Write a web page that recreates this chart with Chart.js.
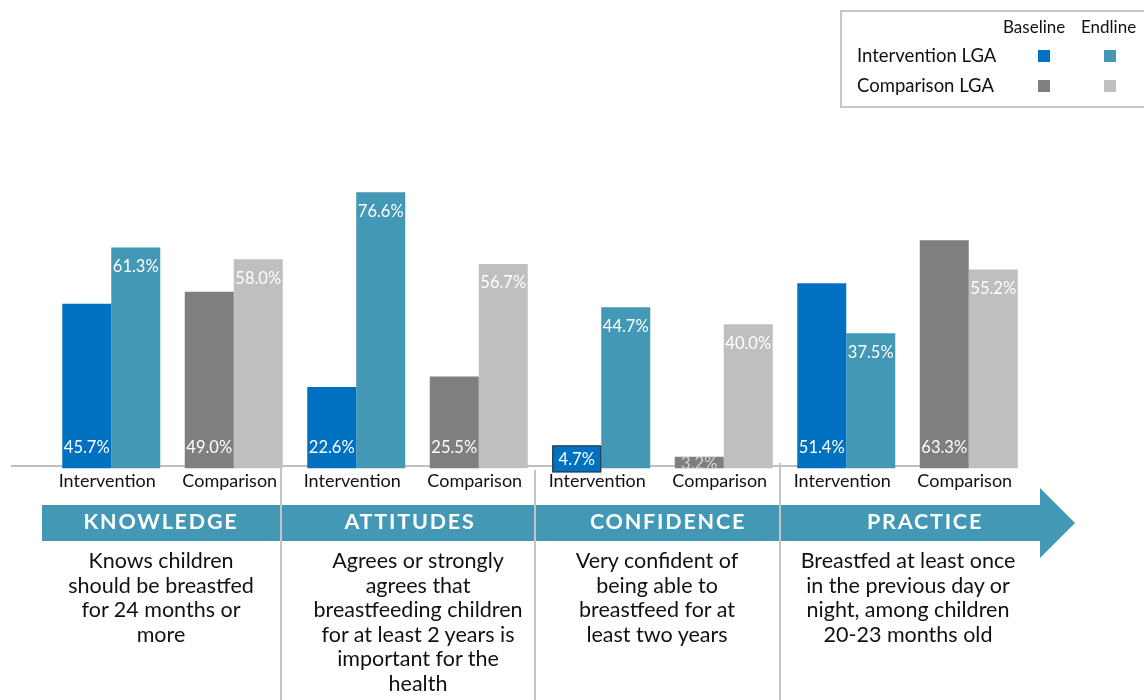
<!DOCTYPE html>
<html lang="en">
<head>
<meta charset="UTF-8">
<title>Breastfeeding indicators</title>
<script src="https://cdn.jsdelivr.net/npm/chart.js"></script>
<style>
  body { margin: 0; background: #fff; font-family: Lato, "Open Sans", sans-serif; }
  .wrap { position: relative; width: 1144px; height: 700px; overflow: hidden; }
  #chart { position: absolute; left: 0; top: 0; }
  .legend { position: absolute; left: 840px; top: 10px; width: 320px; height: 98px; border: 2px solid #c8c8c8; box-sizing: border-box; color: #111; }
  .legend .hd { position: absolute; top: 4px; font-size: 17px; }
  .legend .row { position: absolute; left: 15px; font-size: 18.5px; }
  .legend .sq { position: absolute; width: 12px; height: 12px; }
  #deco { position: absolute; left: 0; top: 0; }
  .band-label { position: absolute; top: 508px; width: 260px; margin-left: -130px; text-align: center; color: #fff; font-weight: bold; font-size: 21.5px; letter-spacing: 1.8px; }
  .desc { position: absolute; top: 548px; width: 280px; margin-left: -140px; text-align: center; color: #111; font-size: 21.5px; line-height: 24.5px; }
</style>
</head>
<body>
<div class="wrap">
  <canvas id="chart" width="1144" height="700"></canvas>
  <svg id="deco" width="1144" height="700"></svg>
  <div class="legend">
    <div class="hd" style="left:161px">Baseline</div>
    <div class="hd" style="left:239px">Endline</div>
    <div class="row" style="top:32px">Intervention LGA</div>
    <div class="row" style="top:62px">Comparison LGA</div>
    <div class="sq" style="left:196px;top:38px;background:#0070C0"></div>
    <div class="sq" style="left:262px;top:38px;background:#4298B5"></div>
    <div class="sq" style="left:196px;top:68px;background:#7F7F7F"></div>
    <div class="sq" style="left:262px;top:68px;background:#BFBFBF"></div>
  </div>
</div>
<script>
const categories = ['Intervention', 'Comparison', 'Intervention', 'Comparison',
                    'Intervention', 'Comparison', 'Intervention', 'Comparison'];
const baseline = [45.7, 49.0, 22.6, 25.5, 4.7, 3.2, 51.4, 63.3];
const endline  = [61.3, 58.0, 76.6, 56.7, 44.7, 40.0, 37.5, 55.2];
const domains = ['KNOWLEDGE', 'ATTITUDES', 'CONFIDENCE', 'PRACTICE'];
const descriptions = [
  'Knows children<br>should be breastfed<br>for 24 months or<br>more',
  'Agrees or strongly<br>agrees that<br>breastfeeding children<br>for at least 2 years is<br>important for the<br>health',
  'Very confident of<br>being able to<br>breastfeed for at<br>least two years',
  'Breastfed at least once<br>in the previous day or<br>night, among children<br>20-23 months old'
];

const BLUE = '#0070C0', TEAL = '#4298B5', DGRAY = '#7F7F7F', LGRAY = '#BFBFBF';
const baseColors = categories.map(c => c === 'Intervention' ? BLUE : DGRAY);
const endColors = categories.map(c => c === 'Intervention' ? TEAL : LGRAY);

// horizontal axis line, drawn under the bars
const axisLine = {
  id: 'axisLine',
  beforeDatasetsDraw(chart) {
    const ctx = chart.ctx;
    const last = chart.getDatasetMeta(1).data[categories.length - 1];
    const y = chart.scales.y.getPixelForValue(0) - 2.5;
    ctx.save();
    ctx.strokeStyle = '#BFBFBF';
    ctx.lineWidth = 2;
    ctx.beginPath();
    ctx.moveTo(11, y);
    ctx.lineTo(last.x + last.width / 2, y);
    ctx.stroke();
    ctx.restore();
  }
};

// value labels: baseline at the bottom of the bar, endline at the top
const valueLabels = {
  id: 'valueLabels',
  afterDatasetsDraw(chart) {
    const ctx = chart.ctx;
    ctx.save();
    ctx.font = '16.5px Lato, sans-serif';
    ctx.textAlign = 'center';
    ctx.textBaseline = 'middle';
    chart.data.datasets.forEach((ds, di) => {
      chart.getDatasetMeta(di).data.forEach((bar, i) => {
        const txt = ds.data[i].toFixed(1) + '%';
        const left = bar.x - bar.width / 2;
        const h = bar.base - bar.y;
        if (di === 0) {
          if (h < 14) {
            ctx.save();
            ctx.beginPath();
            ctx.rect(left, bar.y, bar.width, h);
            ctx.clip();
            ctx.fillStyle = '#d4d4d4';
            ctx.fillText(txt, bar.x, bar.base - 5);
            ctx.restore();
          } else {
            if (h < 24) {
              ctx.fillStyle = ds.backgroundColor[i];
              ctx.fillRect(left, bar.base - 23, bar.width, 27);
              ctx.strokeStyle = '#333';
              ctx.lineWidth = 1;
              ctx.strokeRect(left + 0.5, bar.base - 22.5, bar.width - 1, 26);
            }
            ctx.fillStyle = '#fff';
            ctx.fillText(txt, bar.x, h < 24 ? bar.base - 9 : bar.base - 21);
          }
        } else {
          ctx.fillStyle = '#fff';
          ctx.fillText(txt, bar.x, bar.y + 19);
        }
      });
    });
    ctx.restore();
  }
};

new Chart(document.getElementById('chart'), {
  type: 'bar',
  data: {
    labels: categories,
    datasets: [
      { label: 'Baseline', data: baseline, backgroundColor: baseColors },
      { label: 'Endline', data: endline, backgroundColor: endColors }
    ]
  },
  options: {
    responsive: false,
    animation: false,
    layout: { padding: { left: 50, right: 114, top: 108, bottom: 206 } },
    datasets: { bar: { categoryPercentage: 0.8, barPercentage: 1.0 } },
    plugins: { legend: { display: false }, tooltip: { enabled: false } },
    scales: {
      x: {
        grid: { display: false, drawTicks: false },
        border: { display: false },
        ticks: { color: '#111', font: { family: 'Lato', size: 18 }, padding: 2, labelOffset: -4, maxRotation: 0 }
      },
      y: { display: false, min: 0, max: 100 }
    }
  },
  plugins: [axisLine, valueLabels]
});

// arrow band, separators and domain texts
const svg = document.getElementById('deco');
const NS = 'http://www.w3.org/2000/svg';
const arrow = document.createElementNS(NS, 'polygon');
arrow.setAttribute('points', '42,505 1040,505 1040,488 1075,523 1040,558 1040,541 42,541');
arrow.setAttribute('fill', TEAL);
svg.appendChild(arrow);
const sepX = [281, 535, 780];
const sepTop = [466, 470, 463];
sepX.forEach((x, k) => {
  const l = document.createElementNS(NS, 'line');
  l.setAttribute('x1', x); l.setAttribute('x2', x);
  l.setAttribute('y1', sepTop[k]); l.setAttribute('y2', 700);
  l.setAttribute('stroke', '#C4C4C4');
  l.setAttribute('stroke-width', 2);
  svg.appendChild(l);
});
const bandCenters = [161, 410, 668, 925];
const descCenters = [161, 418, 657, 908];
const wrap = document.querySelector('.wrap');
domains.forEach((d, k) => {
  const b = document.createElement('div');
  b.className = 'band-label';
  b.style.left = bandCenters[k] + 'px';
  b.textContent = d;
  wrap.appendChild(b);
  const t = document.createElement('div');
  t.className = 'desc';
  t.style.left = descCenters[k] + 'px';
  t.innerHTML = descriptions[k];
  wrap.appendChild(t);
});
</script>
</body>
</html>
